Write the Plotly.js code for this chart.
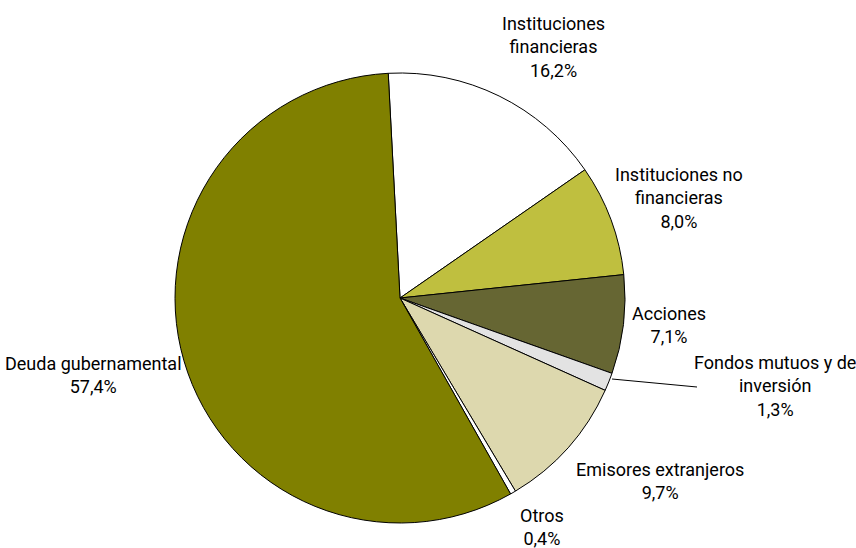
<!DOCTYPE html>
<html>
<head>
<meta charset="utf-8">
<script src="https://cdn.plot.ly/plotly-3.0.1.min.js"></script>
<style>html,body{margin:0;padding:0;background:#fff;}#chart{width:856px;height:548px;}</style>
</head>
<body>
<div id="chart"></div>
<script>
var categories = ["Instituciones financieras", "Instituciones no financieras", "Acciones", "Fondos mutuos y de inversión", "Emisores extranjeros", "Otros", "Deuda gubernamental"];
var labelLines = ["Instituciones<br>financieras", "Instituciones no<br>financieras", "Acciones", "Fondos mutuos y de<br>inversión", "Emisores extranjeros", "Otros", "Deuda gubernamental"];
var values = [16.2, 8.0, 7.1, 1.3, 9.7, 0.4, 57.4];
var colors = ["#FFFFFF", "#BFBF3F", "#666633", "#E3E3E3", "#DDD8AE", "#FFFFFF", "#808000"];

// label placement (pixels in 856x548 frame)
var labelPos = [[553, 47], [679, 198], [669, 325], [775, 386], [660, 481], [542, 527], [93, 375]];

var W = 856, H = 548;
var FONT = "Roboto, 'Liberation Sans Narrow', sans-serif";

function fmt(v) { return v.toFixed(1).replace('.', ','); }

var annotations = categories.map(function (c, i) {
  return {
    xref: 'paper', yref: 'paper',
    x: labelPos[i][0] / W, y: 1 - labelPos[i][1] / H,
    xanchor: 'center', yanchor: 'middle',
    text: labelLines[i] + '<br>' + fmt(values[i]) + '%',
    showarrow: false,
    font: {family: FONT, size: 18, color: '#000', stretch: 'condensed'},
    align: 'center'
  };
});

var trace = {
  type: 'pie',
  labels: categories,
  values: values,
  sort: false,
  direction: 'clockwise',
  rotation: -3,
  marker: {colors: colors, line: {color: '#000', width: 1}},
  textinfo: 'none',
  hoverinfo: 'none',
  showlegend: false,
  domain: {x: [175 / W, 625 / W], y: [1 - 523 / H, 1 - 73 / H]}
};

var layout = {
  width: W, height: H,
  margin: {l: 0, r: 0, t: 0, b: 0},
  paper_bgcolor: '#fff',
  showlegend: false,
  annotations: annotations,
  shapes: [{
    type: 'line', xref: 'paper', yref: 'paper',
    x0: 612 / W, y0: 1 - 379 / H, x1: 697 / W, y1: 1 - 387 / H,
    line: {color: '#000', width: 1}
  }]
};

Plotly.newPlot('chart', [trace], layout, {staticPlot: true});
</script>
</body>
</html>
